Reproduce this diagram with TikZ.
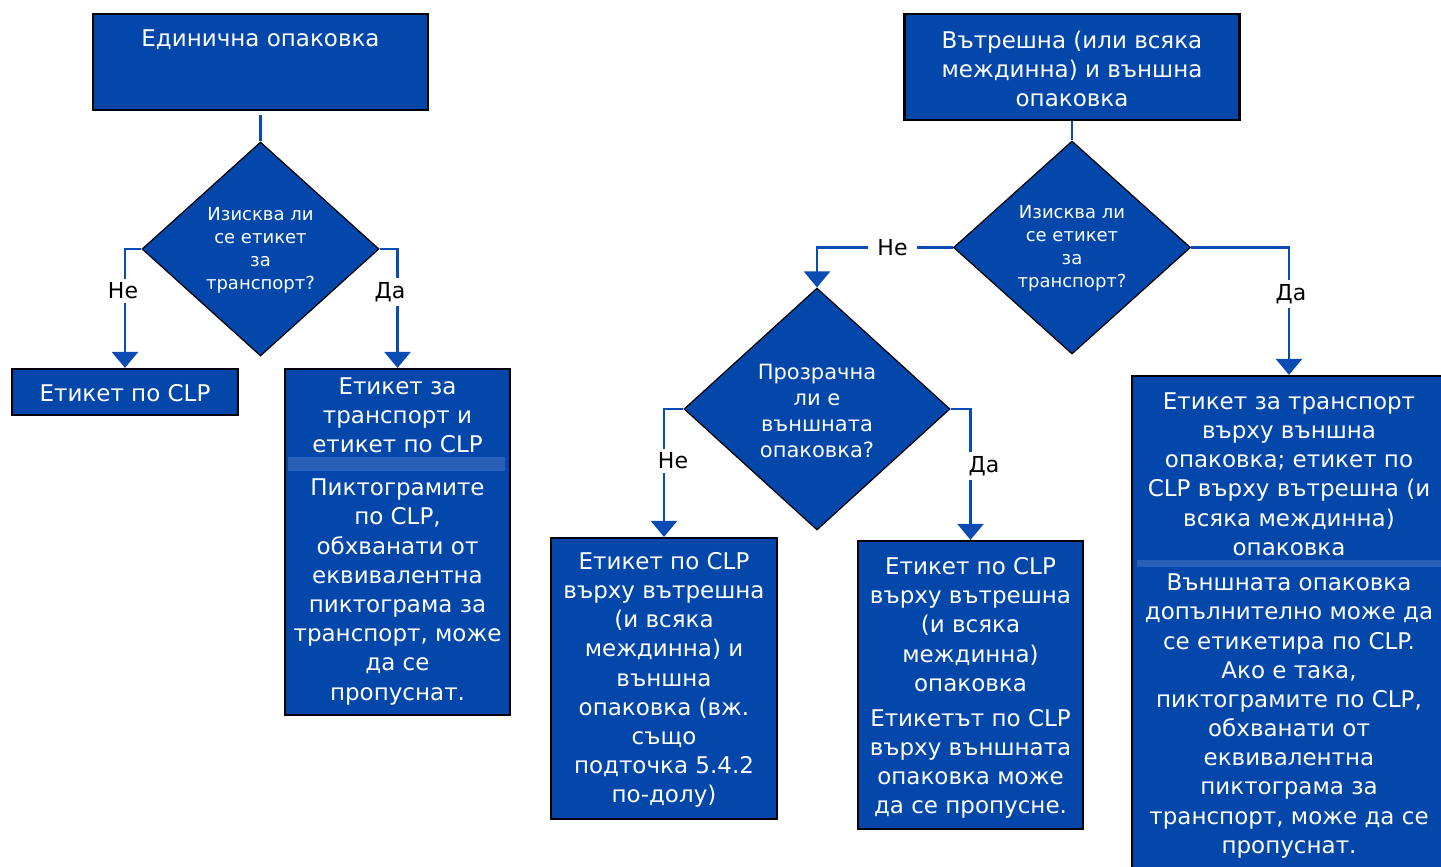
\documentclass[tikz,border=0pt]{standalone}
\usepackage{fontspec}
\setmainfont{DejaVu Sans}
\usetikzlibrary{shapes.geometric,arrows.meta}
\definecolor{bfill}{RGB}{3,71,171}
\definecolor{bline}{RGB}{10,76,180}
\definecolor{bband}{RGB}{40,96,184}
\begin{document}
\begin{tikzpicture}[x=1pt,y=-1pt,
  box/.style={draw=black,line width=2.2pt,fill=bfill,rectangle,inner sep=0pt},
  band/.style={fill=bband,rectangle,inner sep=0pt},
  dia/.style={draw=black,line width=1.2pt,fill=bfill,diamond,inner sep=0pt},
  txt/.style={text=white,align=center,inner sep=0pt,font=\fontsize{23}{29.2}\selectfont},
  qtxt/.style={text=white,align=center,inner sep=0pt,font=\fontsize{18}{23}\selectfont},
  q3txt/.style={text=white,align=center,inner sep=0pt,font=\fontsize{21}{26}\selectfont},
  conn/.style={draw=bline,line width=2.6pt,-{Triangle[width=26pt,length=16pt]}},
  plainconn/.style={draw=bline,line width=2.6pt},
  lbl/.style={fill=white,text=black,inner xsep=5pt,inner ysep=4pt,font=\fontsize{22}{24}\selectfont}]
\useasboundingbox (0,0) rectangle (1441,867);
\clip (0,0) rectangle (1441,867);

% boxes
\node[box,minimum width=335,minimum height=96] (A) at (260.5,62) {};
\node[box,minimum width=226,minimum height=46] (B) at (125,392) {};
\node[box,minimum width=225,minimum height=346] (C) at (397.5,542) {};
\node[box,minimum width=335,minimum height=106] (D) at (1072,67) {};
\node[box,minimum width=226,minimum height=281] (E) at (664,678.5) {};
\node[box,minimum width=225,minimum height=288] (F) at (970.5,685) {};
\node[box,minimum width=314,minimum height=504] (G) at (1289,628) {};

\node[band,minimum width=217,minimum height=14] (sepC) at (396.5,464) {};
\node[band,minimum width=306,minimum height=7] (sepG) at (1290,563.5) {};

% diamonds
\node[dia,minimum width=237,minimum height=214] (d1) at (260.5,249) {};
\node[dia,minimum width=237,minimum height=213] (d2) at (1072,247.5) {};
\node[dia,minimum width=266,minimum height=242] (d3) at (817,409) {};

% texts
\node[txt] (tA) at (260.5,40) {Единична опаковка};
\node[txt] (tD) at (1072,69) {Вътрешна (или всяка\\междинна) и външна\\опаковка};
\node[qtxt] (td1) at (260.5,250.5) {Изисква ли\\се етикет\\за\\транспорт?};
\node[qtxt] (td2) at (1072,248.5) {Изисква ли\\се етикет\\за\\транспорт?};
\node[q3txt] (td3) at (817,411) {Прозрачна\\ли е\\външната\\опаковка?};
\node[txt] (tB) at (125,393) {Етикет по CLP};
\node[txt] (tC1) at (397.5,415) {Етикет за\\транспорт и\\етикет по CLP};
\node[txt] (tC2) at (397.5,592) {Пиктограмите\\по CLP,\\обхванати от\\еквивалентна\\пиктограма за\\транспорт, може\\да се\\пропуснат.};
\node[txt] (tE) at (664,680) {Етикет по CLP\\върху вътрешна\\(и всяка\\междинна) и\\външна\\опаковка (вж.\\също\\подточка 5.4.2\\по-долу)};
\node[txt] (tF1) at (970.5,624.5) {Етикет по CLP\\върху вътрешна\\(и всяка\\междинна)\\опаковка};
\node[txt] (tF2) at (970.5,764) {Етикетът по CLP\\върху външната\\опаковка може\\да се пропусне.};
\node[txt] (tG1) at (1289,474) {Етикет за транспорт\\върху външна\\опаковка; етикет по\\CLP върху вътрешна (и\\всяка междинна)\\опаковка};
\node[txt] (tG2) at (1289,716) {Външната опаковка\\допълнително може да\\се етикетира по CLP.\\Ако е така,\\пиктограмите по CLP,\\обхванати от\\еквивалентна\\пиктограма за\\транспорт, може да се\\пропуснат.};

% connectors
\draw[plainconn,shorten <=4pt] (A.south) -- (d1.north);
\draw[conn] (d1.west) -| (B.north);
\draw[conn] (d1.east) -| (C.north);
\draw[plainconn] (D.south) -- (d2.north);
\draw[conn] (d2.west) -| (d3.north);
\draw[conn] (d2.east) -| (G.north);
\draw[conn] (d3.west) -| (E.north);
\draw[conn] (d3.east) -| (F.north);

% labels
\node[lbl] (l1) at (123,291) {Не};
\node[lbl] (l2) at (390,292) {Да};
\node[lbl,inner xsep=9pt] (l3) at (892.5,248) {Не};
\node[lbl] (l4) at (1291,294) {Да};
\node[lbl] (l5) at (673,461) {Не};
\node[lbl] (l6) at (984,466) {Да};
\end{tikzpicture}
\end{document}
